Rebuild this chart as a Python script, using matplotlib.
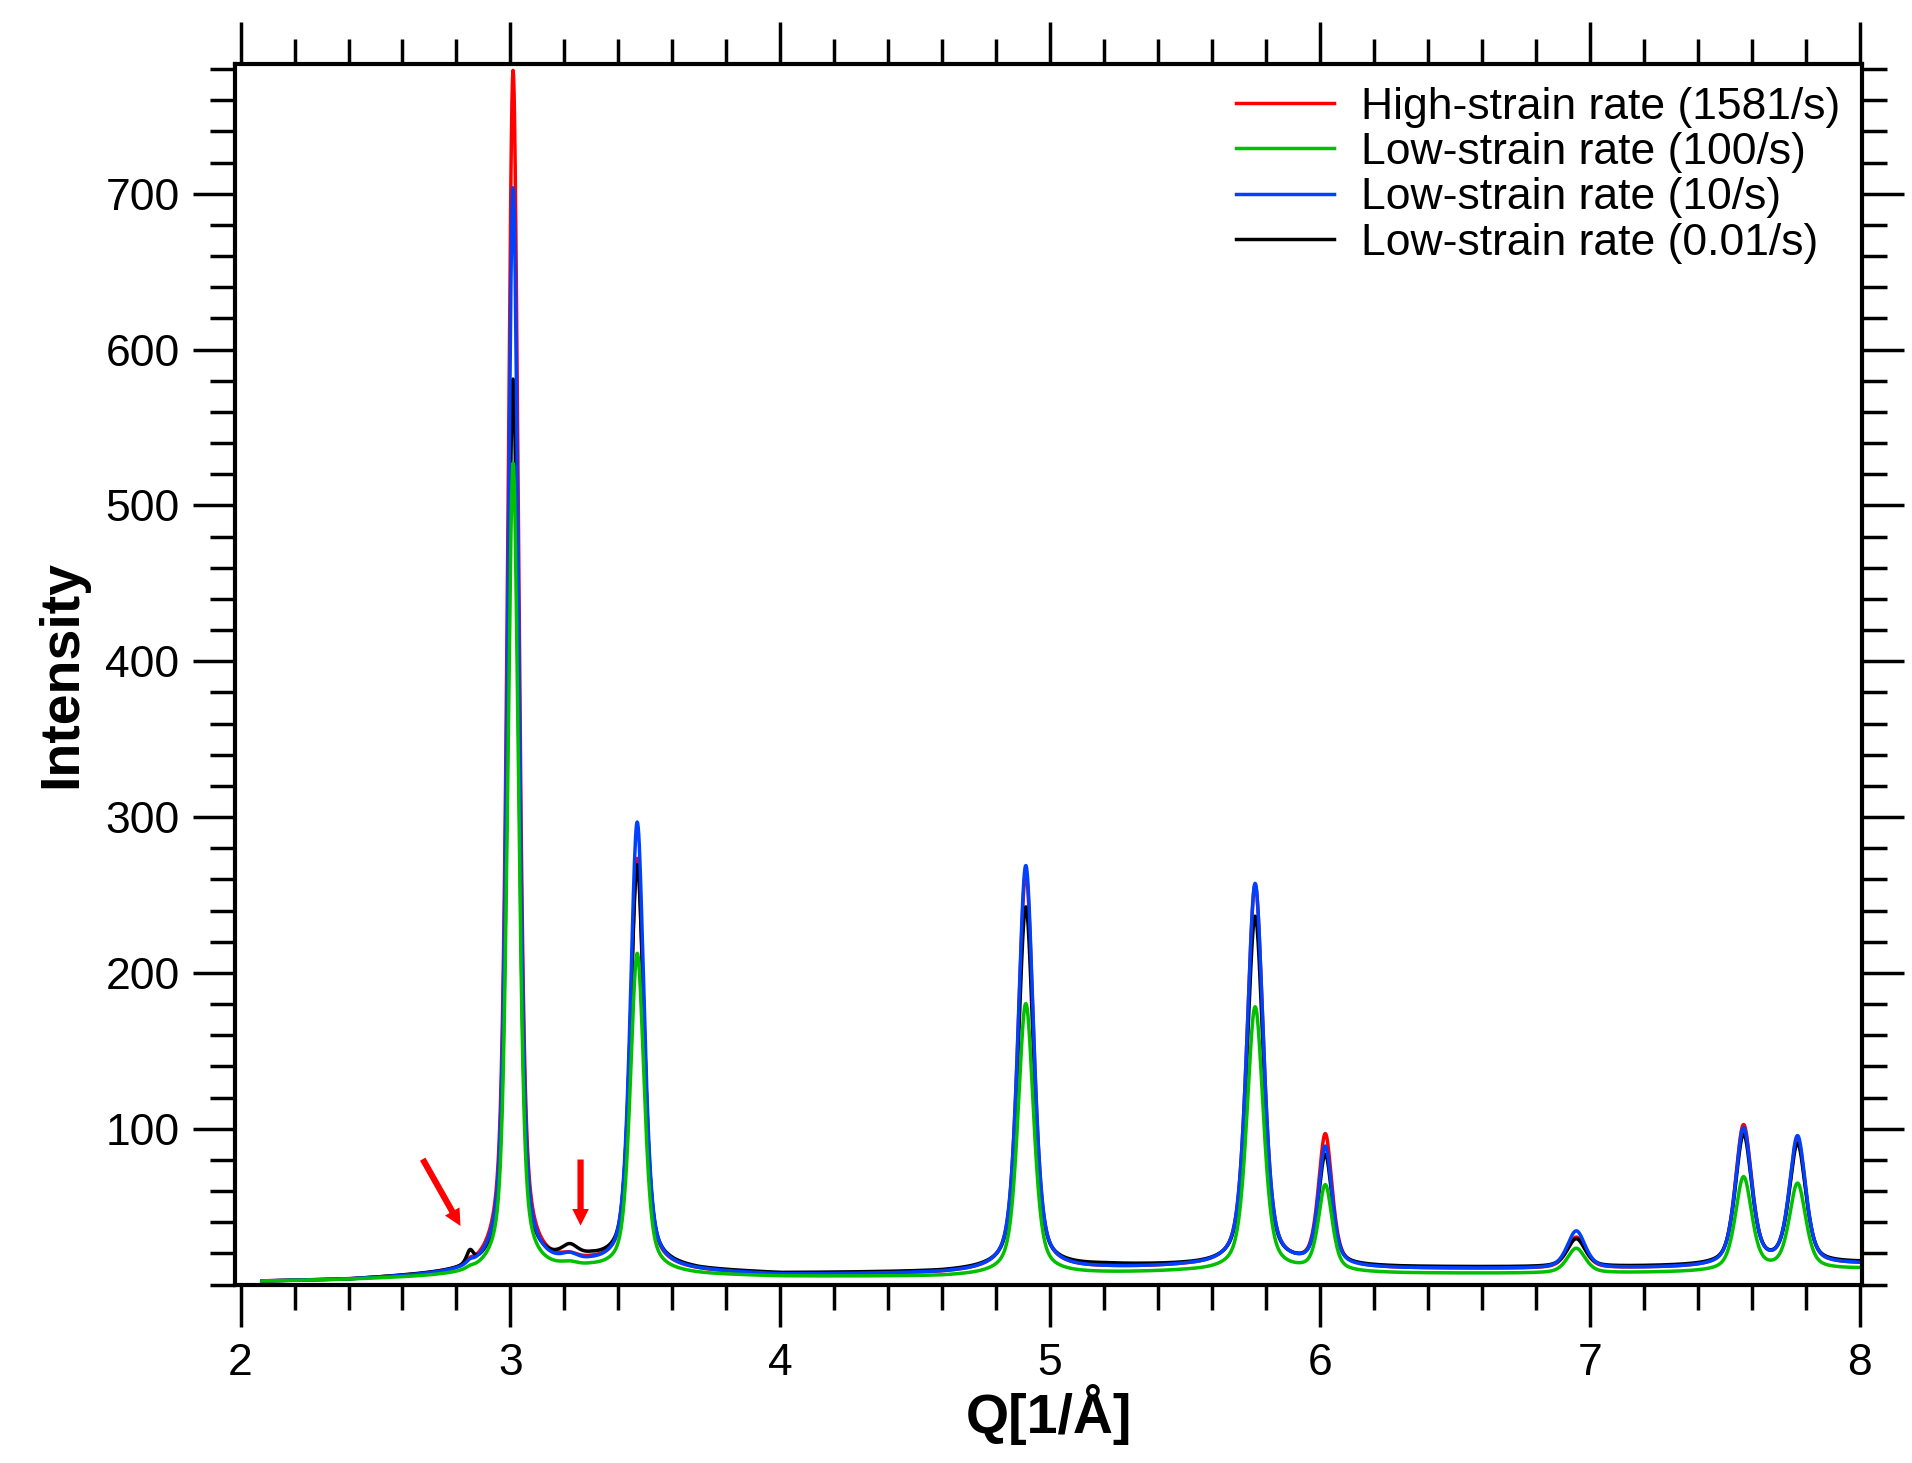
import numpy as np
import matplotlib
matplotlib.use("Agg")
import matplotlib.pyplot as plt
from matplotlib.ticker import MultipleLocator

labels = ["High-strain rate (1581/s)", "Low-strain rate (100/s)",
          "Low-strain rate (10/s)", "Low-strain rate (0.01/s)"]
colors = ["#ff0000", "#00c000", "#0040ff", "#000000"]

peak_q = [2.85, 3.01, 3.22, 3.47, 4.91, 5.76, 6.02, 6.95, 7.57, 7.77]
peak_w = [0.015, 0.024, 0.035, 0.03, 0.034, 0.036, 0.03, 0.04, 0.036, 0.036]
peak_h_red = [2, 770, 3, 262, 255, 245, 84, 20, 90, 80]
peak_h_green = [1, 520, 2, 204, 174, 170, 55, 16, 60, 55]
peak_h_blue = [2, 695, 4, 286, 260, 246, 76, 24, 88, 82]
peak_h_black = [8, 570, 7, 256, 232, 224, 70, 18, 83, 76]

base_q = [2.08, 2.4, 2.8, 3.3, 3.7, 4.0, 4.6, 5.2, 5.5, 6.3, 7.0, 7.5, 8.0]
base_red = [2, 3, 6, 12, 8, 6, 7, 10, 11, 10, 10, 11, 13]
base_green = [2, 3, 5, 9, 6, 5, 5, 7, 8, 7, 7, 8, 10]
base_blue = [2, 3, 6, 11, 8, 6, 7, 10, 11, 10, 10, 11, 13]
base_black = [2, 3, 7, 15, 9, 7, 8, 12, 12, 11, 11, 12, 14]

q = np.linspace(2.08, 8.0, 3000)

def profile(heights, base):
    y = np.interp(q, base_q, base)
    for c, w, h in zip(peak_q, peak_w, heights):
        lor = 1.0 / (1 + ((q - c) / w) ** 2)
        gau = np.exp(-np.log(2) * ((q - c) / w) ** 2)
        y = y + h * (0.5 * lor + 0.5 * gau)
    return y

series = [(peak_h_red, base_red), (peak_h_green, base_green),
          (peak_h_blue, base_blue), (peak_h_black, base_black)]

plt.rcParams["font.family"] = "Liberation Sans"
fig = plt.figure(figsize=(19.12, 14.63), dpi=100)
ax = fig.add_axes([0.123, 0.122, 0.851, 0.834])

order = [0, 3, 2, 1]
lines = {}
for i in order:
    h, b = series[i]
    lines[i], = ax.plot(q, profile(h, b), color=colors[i], lw=2.5, label=labels[i])

ax.set_xlim(1.98, 8.01)
ax.set_ylim(0, 783)
ax.xaxis.set_major_locator(MultipleLocator(1))
ax.xaxis.set_minor_locator(MultipleLocator(0.2))
ax.yaxis.set_minor_locator(MultipleLocator(20))
ax.set_yticks([100, 200, 300, 400, 500, 600, 700])
ax.tick_params(which="both", direction="out", top=True, right=True, width=2.5,
               labelsize=32, pad=10)
ax.tick_params(which="major", length=30)
ax.tick_params(which="minor", length=18)
ax.tick_params(axis="x", which="major", pad=12)
for s in ax.spines.values():
    s.set_linewidth(3)

ax.set_xlabel("Q[1/Å]", fontsize=40, fontweight="bold", labelpad=0)
ax.set_ylabel("Intensity", fontsize=40, fontweight="bold", labelpad=12)

ax.legend([lines[i] for i in range(4)], labels, loc="upper right",
          frameon=False, fontsize=32, handlelength=2.2, labelspacing=0.1,
          borderaxespad=0.1, handletextpad=0.6)

arrow_kw = dict(arrowstyle="simple,head_width=1.2,head_length=1.2,tail_width=0.45",
                color="#ff0000", lw=0)
ax.annotate("", xy=(2.82, 36), xytext=(2.67, 82), arrowprops=arrow_kw)
ax.annotate("", xy=(3.26, 36), xytext=(3.26, 82), arrowprops=arrow_kw)

fig.savefig("out.png", dpi=100)
